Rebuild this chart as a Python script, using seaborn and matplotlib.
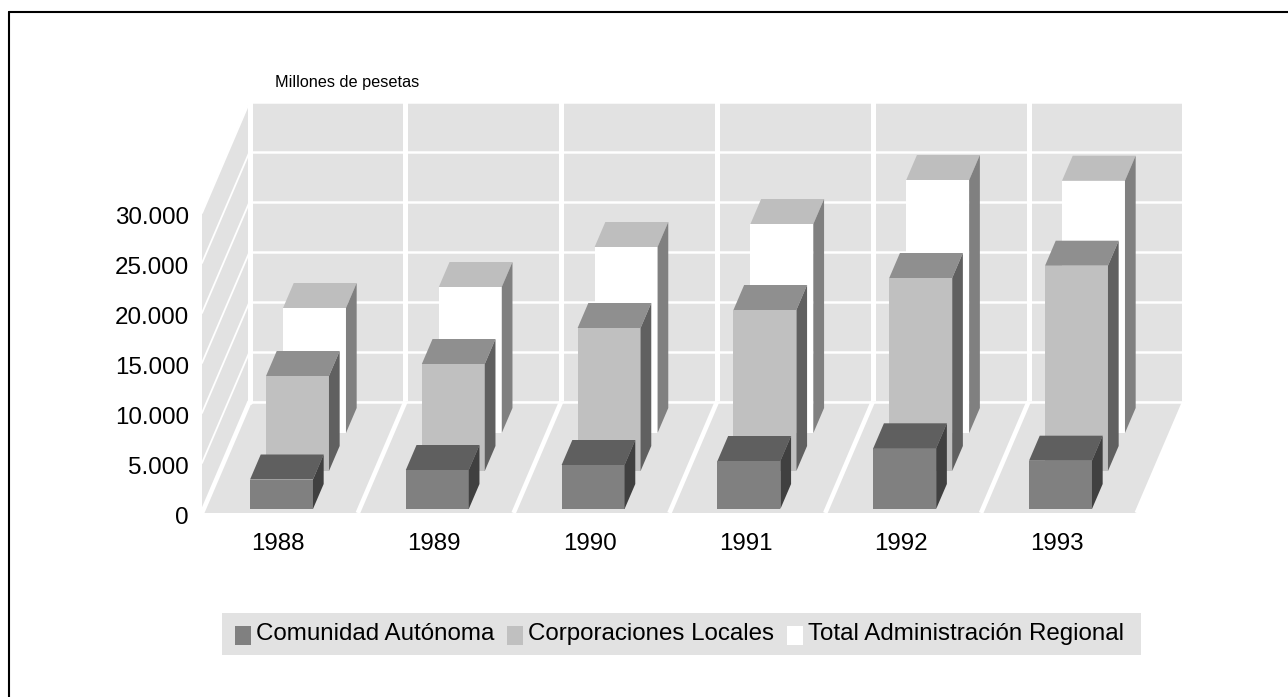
import matplotlib
matplotlib.use("Agg")
import matplotlib.pyplot as plt
from matplotlib.legend_handler import HandlerPatch
from matplotlib.lines import Line2D
from matplotlib.patches import Patch, Polygon, Rectangle
import pandas as pd
import seaborn as sns

# data
years = ["1988", "1989", "1990", "1991", "1992", "1993"]
comunidad = [2950, 3900, 4400, 4800, 6070, 4830]
corporaciones = [9500, 10700, 14300, 16100, 19300, 20530]
total = [12500, 14600, 18600, 20900, 25300, 25230]
yticks = [0, 5000, 10000, 15000, 20000, 25000, 30000]
ytick_labels = ["0", "5.000", "10.000", "15.000", "20.000", "25.000", "30.000"]
names = ["Comunidad Autónoma", "Corporaciones Locales", "Total Administración Regional"]

W, H = 1288, 697
WALL = "#e2e2e2"
CAT_PX = 155.8          # pixels per year
UNIT_PX = 0.01          # pixels per peseta unit
GRID_LW = 1.8

sns.set_theme(style="whitegrid", rc={"axes.facecolor": WALL, "grid.color": "white",
                                     "grid.linewidth": GRID_LW, "figure.facecolor": "white"})
plt.rcParams["font.family"] = ["Liberation Sans", "DejaVu Sans"]

fig = plt.figure(figsize=(W / 100, H / 100), dpi=100)


def px_axes(left, baseline):
    # axes of 6 years x 30000, placed by its left edge and zero line in pixels
    return fig.add_axes([left / W, 1 - baseline / H, 6 * CAT_PX / W, 30000 * UNIT_PX / H])


# back wall, floor and left wall
wall = px_axes(249.7, 401.5)
wall.set_xlim(-0.5, 5.5)
wall.set_ylim(0, 30000)
wall.set_xticks([i - 0.5 for i in range(7)])
wall.set_yticks(yticks)
wall.tick_params(labelbottom=False, labelleft=False, length=0)
wall.grid(True)
wall.grid(True, axis="x", linewidth=3.6)
sns.despine(ax=wall, left=True, bottom=True)

floor_dx = -47.7 / CAT_PX
floor_dy = -111.5 / UNIT_PX
x0, x1 = -0.5, 5.5
wall.add_patch(Polygon([(x0, 0), (x1, 0), (x1 + floor_dx, floor_dy), (x0 + floor_dx, floor_dy)],
                       facecolor=WALL, edgecolor="none", clip_on=False))
wall.add_patch(Polygon([(x0, 0), (x0, 30000), (x0 + floor_dx, 30000 + floor_dy), (x0 + floor_dx, floor_dy)],
                       facecolor=WALL, edgecolor="none", clip_on=False))
for v in yticks:
    wall.plot([x0, x0 + floor_dx], [v, v + floor_dy], color="white", lw=1.3, clip_on=False, zorder=3)
for i in range(7):
    wall.plot([i - 0.5, i - 0.5 + floor_dx], [0, floor_dy], color="white", lw=3.3, clip_on=False, zorder=3,
              solid_capstyle="butt")
wall.plot([x0, x1], [0, 0], color="white", lw=GRID_LW, clip_on=False, zorder=3)
wall.plot([x0, x0], [0, 30000], color="white", lw=3.6, clip_on=False, zorder=3)

# bars, back row first: values, left edge, zero line, front/top/side colours
rows = [
    (total, 236.6, 433, "#ffffff", "#bebebe", "#808080"),
    (corporaciones, 219.6, 471, "#c0c0c0", "#8f8f8f", "#606060"),
    (comunidad, 203.6, 509, "#808080", "#5f5f5f", "#404040"),
]
bar_dx = 10.7 / CAT_PX
bar_dy = 25 / UNIT_PX

for values, left, baseline, front, top, side in rows:
    ax = px_axes(left, baseline)
    df = pd.DataFrame({"year": years, "value": values})
    sns.barplot(data=df, x="year", y="value", ax=ax, color=front, saturation=1, width=0.404, linewidth=0)
    ax.set_xlim(-0.5, 5.5)
    ax.set_ylim(0, 30000)
    ax.set_axis_off()
    for bar in list(ax.patches):
        a, b = bar.get_x(), bar.get_x() + bar.get_width()
        h = bar.get_height()
        ax.add_patch(Polygon([(a, h), (b, h), (b + bar_dx, h + bar_dy), (a + bar_dx, h + bar_dy)],
                             facecolor=top, edgecolor="none", clip_on=False))
        ax.add_patch(Polygon([(b, 0), (b, h), (b + bar_dx, h + bar_dy), (b + bar_dx, bar_dy)],
                             facecolor=side, edgecolor="none", clip_on=False))

# front plane only carries the tick labels
front_ax = px_axes(200.1, 516)
front_ax.patch.set_alpha(0)
front_ax.grid(False)
front_ax.set_xlim(-0.5, 5.5)
front_ax.set_ylim(0, 30000)
front_ax.set_xticks(range(len(years)), years)
front_ax.set_yticks(yticks, ytick_labels)
front_ax.tick_params(axis="x", length=0, pad=12, labelsize=17.4, colors="black")
front_ax.tick_params(axis="y", length=0, pad=8, labelsize=17.4, colors="black")
sns.despine(ax=front_ax, left=True, bottom=True)

fig.text(275 / W, 1 - 82 / H, "Millones de pesetas", fontsize=11.7, color="black", va="center", ha="left")

# legend band is its own rectangle, the legend sits on it without a frame
fig.add_artist(Rectangle((222 / W, 1 - 655 / H), 919 / W, 42 / H, facecolor=WALL, edgecolor="none",
                         transform=fig.transFigure))
handles = [Patch(facecolor=c, edgecolor="none") for c in ["#808080", "#c0c0c0", "#ffffff"]]
leg = fig.legend(handles, names, ncol=3, loc="center", bbox_to_anchor=(679.5 / W, 1 - 634 / H),
                 fontsize=17.4, frameon=False, handlelength=0.66, handleheight=0.27, handletextpad=0.2,
                 columnspacing=0.54, labelcolor="black",
                 handler_map={Patch: HandlerPatch(ypad=-0.35)})

# outer frame, open to the right and bottom edges of the image
fig.add_artist(Line2D([9 / W, 1], [1 - 12 / H, 1 - 12 / H], color="black", lw=1.5, transform=fig.transFigure))
fig.add_artist(Line2D([9 / W, 9 / W], [0, 1 - 12 / H], color="black", lw=1.5, transform=fig.transFigure))

fig.savefig("out.png", dpi=100)
